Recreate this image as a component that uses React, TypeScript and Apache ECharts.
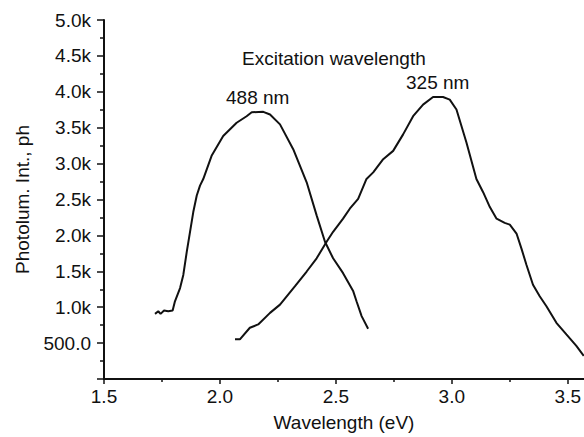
import React, { useEffect, useRef } from "react";
import * as echarts from "echarts";

// 488 nm excitation curve
const evA = [1.720, 1.734, 1.744, 1.759, 1.777, 1.796, 1.806, 1.828, 1.842, 1.857, 1.871, 1.885, 1.900, 1.914, 1.928, 1.964, 2.014, 2.072, 2.115, 2.137, 2.187, 2.216, 2.259, 2.316, 2.374, 2.417, 2.453, 2.488, 2.531, 2.575, 2.589, 2.611, 2.639];
const intA = [907, 944, 907, 953, 944, 953, 1082, 1266, 1450, 1773, 2049, 2325, 2555, 2693, 2785, 3108, 3384, 3569, 3660, 3715, 3721, 3684, 3546, 3200, 2740, 2279, 1912, 1681, 1474, 1221, 1083, 876, 700];

// 325 nm excitation curve
const evB = [2.065, 2.086, 2.129, 2.165, 2.216, 2.259, 2.323, 2.374, 2.417, 2.460, 2.488, 2.531, 2.560, 2.596, 2.632, 2.661, 2.704, 2.747, 2.790, 2.833, 2.876, 2.919, 2.962, 2.991, 3.020, 3.063, 3.106, 3.135, 3.164, 3.193, 3.228, 3.250, 3.279, 3.300, 3.322, 3.350, 3.379, 3.408, 3.451, 3.494, 3.537, 3.569];
const intB = [552, 552, 714, 760, 921, 1036, 1290, 1497, 1681, 1912, 2050, 2233, 2372, 2510, 2786, 2878, 3062, 3177, 3407, 3660, 3822, 3928, 3928, 3891, 3753, 3293, 2786, 2602, 2395, 2233, 2174, 2150, 2026, 1819, 1588, 1312, 1152, 1014, 783, 621, 461, 323];

const xMajorTicks = [1.5, 2.0, 2.5, 3.0, 3.5];
const xMinorTicks = [1.75, 2.25, 2.75, 3.25];

const FONT = '"Liberation Sans", Arial, sans-serif';
const INK = "#111";
const FS = 19;

export default function App() {
  const ref = useRef<HTMLDivElement>(null);
  useEffect(() => {
    if (!ref.current) return;
    const chart = echarts.init(ref.current, null, { renderer: "svg" });
    const lineA = evA.map((x, i) => [x, intA[i]]);
    const lineB = evB.map((x, i) => [x, intB[i]]);
    chart.setOption({
      animation: false,
      backgroundColor: "#fff",
      grid: { left: 104, right: 0, top: 20, bottom: 55, containLabel: false },
      xAxis: [
        {
          type: "value",
          min: 1.5,
          max: 3.57,
          interval: 0.5,
          name: "Wavelength (eV)",
          nameLocation: "middle",
          nameGap: 34,
          nameTextStyle: { fontFamily: FONT, fontSize: FS, color: INK },
          axisLine: { show: true, lineStyle: { color: INK, width: 2 } },
          axisTick: { show: true, customValues: xMajorTicks, length: 5, lineStyle: { color: INK, width: 1.5 } },
          axisLabel: {
            customValues: xMajorTicks,
            formatter: (v: number) => v.toFixed(1),
            margin: 8,
            fontFamily: FONT,
            fontSize: FS,
            color: INK,
          },
          splitLine: { show: false },
        },
        {
          type: "value",
          position: "bottom",
          min: 1.5,
          max: 3.57,
          interval: 0.5,
          axisLine: { show: false },
          axisTick: { show: true, customValues: xMinorTicks, length: 3, lineStyle: { color: INK, width: 1.5 } },
          axisLabel: { show: false },
          splitLine: { show: false },
        },
      ],
      yAxis: {
        type: "value",
        min: 0,
        max: 5000,
        interval: 500,
        name: "Photolum. Int., ph",
        nameLocation: "middle",
        nameGap: 72,
        nameTextStyle: { fontFamily: FONT, fontSize: FS, color: INK },
        axisLine: { show: true, lineStyle: { color: INK, width: 2 } },
        axisTick: { show: true, length: 7, lineStyle: { color: INK, width: 1.5 } },
        minorTick: { show: true, splitNumber: 2, length: 4, lineStyle: { color: INK, width: 1.5 } },
        axisLabel: {
          showMinLabel: false,
          margin: 13,
          fontFamily: FONT,
          fontSize: FS,
          color: INK,
          formatter: (v: number) => (v >= 1000 ? (v / 1000).toFixed(1) + "k" : v.toFixed(1)),
        },
        splitLine: { show: false },
      },
      series: [
        {
          name: "488 nm",
          type: "line",
          xAxisIndex: 0,
          data: lineA,
          showSymbol: false,
          symbol: "none",
          lineStyle: { color: INK, width: 2 },
        },
        {
          name: "325 nm",
          type: "line",
          xAxisIndex: 0,
          data: lineB,
          showSymbol: false,
          symbol: "none",
          lineStyle: { color: INK, width: 2 },
        },
      ],
      graphic: [
        {
          type: "text",
          left: 242,
          top: 49,
          style: { text: "Excitation wavelength", fontFamily: FONT, fontSize: FS, fill: INK },
        },
        {
          type: "text",
          left: 226,
          top: 88,
          style: { text: "488 nm", fontFamily: FONT, fontSize: FS, fill: INK },
        },
        {
          type: "text",
          left: 406,
          top: 73,
          style: { text: "325 nm", fontFamily: FONT, fontSize: FS, fill: INK },
        },
      ],
    });
    return () => chart.dispose();
  }, []);
  return (
    <div
      ref={ref}
      style={{ position: "absolute", left: 0, top: 0, width: 584, height: 437 }}
    />
  );
}
